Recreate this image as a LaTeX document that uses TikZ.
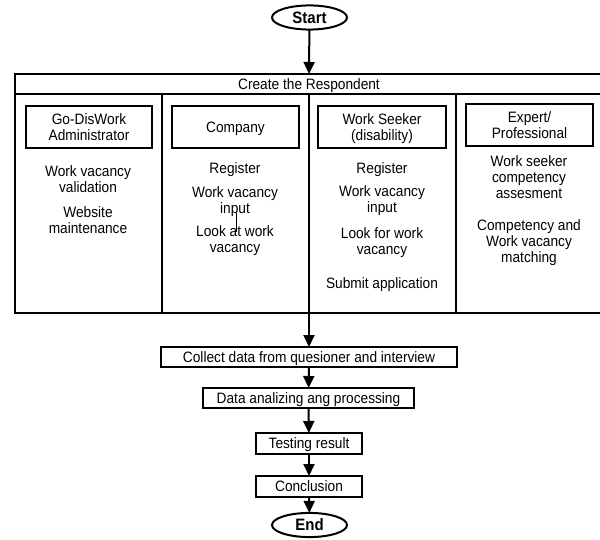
\documentclass[tikz,border=0pt]{standalone}
\usepackage{fontspec}
\setmainfont{Liberation Sans}
\usetikzlibrary{arrows.meta,shapes.geometric}
\newcommand{\vstxt}[1]{\raisebox{-2.2pt}[\height][\depth]{\scalebox{1}[1.1]{\begin{tabular}{@{}c@{}}#1\end{tabular}}}}
\begin{document}
\begin{tikzpicture}[x=1pt,y=-1pt,
  font=\fontsize{13.7}{14.5}\selectfont,
  every node/.style={inner sep=0pt, outer sep=0pt},
  terminal/.style={draw, ellipse, line width=2pt, font=\fontsize{15}{15.5}\selectfont\bfseries},
  rolebox/.style={draw, line width=2.4pt, align=center, minimum height=42pt},
  flowbox/.style={draw, line width=2pt, minimum height=20pt},
  txt/.style={align=center},
  frame/.style={line width=2pt},
  flow/.style={line width=2pt, -{Triangle[length=12pt,width=11pt]}}
]
\useasboundingbox (0,0) rectangle (600,540);
\clip (0,0) rectangle (600,540);

% start
\node[terminal, minimum width=75pt, minimum height=21pt] (start) at (309.5,17.5) {\vstxt{Start}};

% outer respondent box
\node[draw, frame, minimum width=588pt, minimum height=239pt] (resp) at (309,193.5) {};
\draw[line width=1.4pt] (15,94) -- (603,94);
\node (title) at (309,84) {\vstxt{Create the Respondent}};
\draw[line width=2pt] (162,94) -- (162,313);
\draw[line width=2pt] (309,94) -- (309,313);
\draw[line width=2pt] (456,94) -- (456,313);

% role boxes
\node[rolebox, minimum width=126pt] (admin) at (89,127) {\vstxt{Go-DisWork\\Administrator}};
\node[rolebox, minimum width=127pt] (company) at (235.5,127) {\vstxt{Company}};
\node[rolebox, minimum width=128pt] (seeker) at (382,127) {\vstxt{Work Seeker\\(disability)}};
\node[rolebox, minimum width=127pt] (expert) at (529.5,125) {\vstxt{Expert/\\Professional}};

% column 1
\node[txt] (a1) at (88,179) {\vstxt{Work vacancy\\validation}};
\node[txt] (a2) at (88,220) {\vstxt{Website\\maintenance}};

% column 2
\node[txt] (c1) at (235,168) {\vstxt{Register}};
\node[txt] (c2) at (235,200) {\vstxt{Work vacancy\\input}};
\node[txt] (c3) at (235,239) {\vstxt{Look at work\\vacancy}};
\draw[line width=0.6pt] (236,213) -- (236,232);

% column 3
\node[txt] (s1) at (382,168) {\vstxt{Register}};
\node[txt] (s2) at (382,199) {\vstxt{Work vacancy\\input}};
\node[txt] (s3) at (382,241) {\vstxt{Look for work\\vacancy}};
\node[txt] (s4) at (382,283) {\vstxt{Submit application}};

% column 4
\node[txt] (e1) at (529,177) {\vstxt{Work seeker\\competency\\assesment}};
\node[txt] (e2) at (529,241) {\vstxt{Competency and\\Work vacancy\\matching}};

% lower flow
\node[flowbox, minimum width=296pt] (collect) at (309,357) {\vstxt{Collect data from quesioner and interview}};
\node[flowbox, minimum width=211pt] (analyze) at (308.5,398) {\vstxt{Data analizing ang processing}};
\node[flowbox, minimum width=106pt, minimum height=21pt] (testing) at (309,443.5) {\vstxt{Testing result}};
\node[flowbox, minimum width=106pt, minimum height=21pt] (concl) at (309,486.5) {\vstxt{Conclusion}};
\node[terminal, minimum width=75pt, minimum height=20pt] (end) at (309.5,525) {\vstxt{End}};

% connectors
\draw[flow] (start) -- (resp.north);
\draw[flow] (resp.south) -- (collect);
\draw[flow] (collect) -- (analyze);
\draw[flow] (analyze) -- (testing);
\draw[flow] (testing) -- (concl);
\draw[flow] (concl) -- (end);
\end{tikzpicture}
\end{document}
